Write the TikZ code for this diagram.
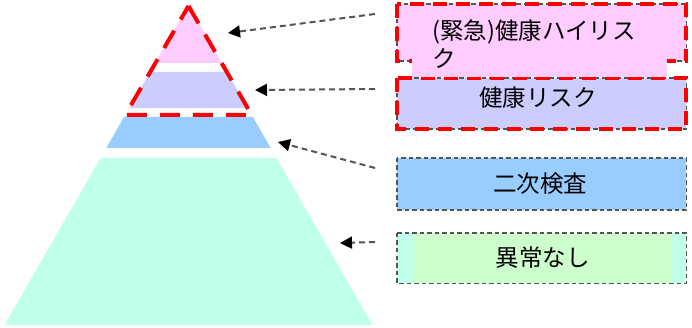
\documentclass[tikz,border=0pt]{standalone}
\usepackage{fontspec}
\setmainfont{Noto Sans CJK JP}
\usetikzlibrary{arrows.meta}
\definecolor{cpink}{HTML}{FFCCFF}
\definecolor{clav}{HTML}{CCCCFF}
\definecolor{cblue}{HTML}{99CCFF}
\definecolor{caqua}{HTML}{C0FFEC}
\definecolor{cgreen}{HTML}{CCFFCC}
\definecolor{cgray}{HTML}{555555}
\begin{document}
\begin{tikzpicture}[x=1pt,y=-1pt,
  boxgray/.style={draw=cgray, line width=1.8pt, dash pattern=on 4.5pt off 3pt},
  redbox/.style={draw=red, line width=4pt, dash pattern=on 14pt off 9pt},
  redpyr/.style={draw=red, line width=4pt, dash pattern=on 20pt off 13pt, line join=round},
  lbl/.style={font=\fontsize{23.5}{28}\selectfont, text=black, inner sep=0pt},
  boxshape/.style={rectangle, inner sep=0pt, minimum width=289pt, anchor=north west},
  arr/.style={draw=cgray, line width=2pt, dash pattern=on 6pt off 4pt,
     -{Triangle[length=12pt,width=12pt,black]}},
]
\useasboundingbox (0,0) rectangle (692,328);
% pyramid bands (apex 188.5,5; half width 0.575(y-5))
\fill[cpink] (188.5,5) -- (221.85,63) -- (155.15,63) -- cycle;
\fill[clav] (150,72) -- (227,72) -- (247.7,108) -- (129.3,108) -- cycle;
\fill[cblue] (124.1,117) -- (252.9,117) -- (270.7,148) -- (106.3,148) -- cycle;
\fill[caqua] (100.5,158) -- (276.5,158) -- (372.5,325) -- (4.5,325) -- cycle;
\draw[redpyr] (188.5,6) -- (251.75,115) -- (125.25,115) -- cycle;
% arrow targets
\coordinate (t1) at (228,33);
\coordinate (t2) at (255,90);
\coordinate (t3) at (278,142);
\coordinate (t4) at (340,243);
% boxes
\node[boxshape, fill=cpink, minimum height=57pt] (b1) at (397,4) {};
\draw[boxgray] (b1.north west) rectangle (b1.south east);
\draw[redbox] (b1.north west) rectangle (b1.south east);
\node[boxshape, fill=clav, minimum height=51pt] (b2) at (397,78) {};
\draw[boxgray] (b2.north west) rectangle (b2.south east);
\draw[redbox] (b2.north west) rectangle (b2.south east);
\node[lbl, fill=cpink, text width=215pt, align=left, inner xsep=20pt,
      minimum height=66pt, anchor=north west] (l1) at (412,11)
      {(緊急)健康ハイリス\\ク};
\node[lbl] (l2) at (538,98) {健康リスク};
\node[boxshape, fill=cblue, minimum height=52pt] (b3) at (397,158) {};
\node[lbl] (l3) at (540,184) {二次検査};
\draw[boxgray] (b3.north west) rectangle (b3.south east);
\node[boxshape, fill=caqua, minimum height=50pt] (b4) at (397,233) {};
\node[lbl, fill=cgreen, minimum width=259pt, minimum height=50pt] (l4) at (542.5,258) {異常なし};
\draw[boxgray] (b4.north west) rectangle (b4.south east);
% arrows
\coordinate (s1) at (375,14);
\coordinate (s2) at (375,89);
\coordinate (s3) at (375,168);
\coordinate (s4) at (375,242);
\draw[arr] (s1) -- (t1);
\draw[arr] (s2) -- (t2);
\draw[arr] (s3) -- (t3);
\draw[arr] (s4) -- (t4);
\end{tikzpicture}
\end{document}
